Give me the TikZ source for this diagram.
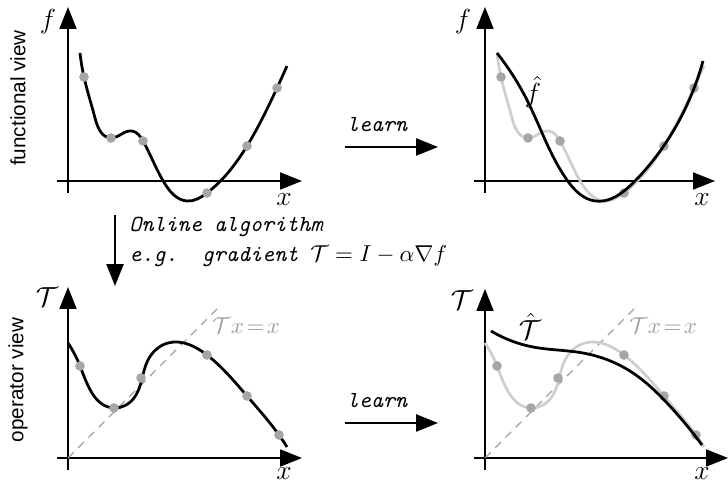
\documentclass[tikz,border=0pt]{standalone}
\usepackage{fontspec}
\newfontfamily\labelsans{Liberation Sans}
\newcommand{\ttitfont}{\fontencoding{OT1}\fontfamily{cmtt}\fontshape{it}\selectfont}
\usetikzlibrary{arrows.meta,hobby}
\definecolor{dotgray}{HTML}{A6A6A6}
\definecolor{lightcurve}{HTML}{CFCFCF}
\definecolor{idgray}{HTML}{A0A0A0}
\begin{document}
\begin{tikzpicture}[x=0.435pt,y=-0.435pt,
  axis/.style={line width=0.7pt,-{Triangle[length=9.5pt,width=7.4pt]}},
  bigarrow/.style={line width=0.9pt,-{Triangle[length=9.5pt,width=7.4pt]}},
  maincurve/.style={line width=1.2pt,black,use Hobby shortcut},
  ghost/.style={line width=1.2pt,lightcurve,use Hobby shortcut},
  dot/.style={circle,fill=dotgray,inner sep=0pt,minimum size=4.2pt},
  identity/.style={idgray,dash pattern=on 3.5pt off 2.8pt,line width=0.5pt},
  axlabel/.style={font=\large},
  ttit/.style={font=\ttitfont},
  sidelabel/.style={font=\labelsans\fontsize{9}{11}\selectfont,rotate=90}]
\useasboundingbox (0,0) rectangle (728,484);

% ---------- panel 1: functional view ----------
\draw[axis] (68,193) -- (68,7);
\draw[axis] (57,181) -- (302,181);
\node[axlabel] (f1) at (48,22) {$f$};
\node[axlabel] (x1) at (284,200) {$x$};
\draw[maincurve] (80,53) .. (84,77) .. (95,118) .. (111,138) .. (132,131) .. (143,141) .. (165,184) .. (187,201) .. (207,193) .. (247,146) .. (277,88) .. (287,66);
\foreach \p in {(84,77),(111,138),(143,141),(207,193),(247,146),(277,88)}
  \node[dot] at \p {};
\node[sidelabel] (fv) at (18,98) {functional view};

% ---------- panel 2: learned f ----------
\begin{scope}[shift={(417,0)}]
\draw[axis] (68,193) -- (68,7);
\draw[axis] (57,181) -- (298,181);
\node[axlabel] (f2) at (46,22) {$f$};
\node[axlabel] (x2) at (285,200) {$x$};
\draw[ghost] (80,53) .. (84,77) .. (95,118) .. (111,138) .. (132,131) .. (143,141) .. (165,184) .. (187,201) .. (207,193) .. (247,146) .. (277,88) .. (287,66);
\foreach \p in {(84,77),(111,138),(143,141),(207,193),(247,146),(277,88)}
  \node[dot] at \p {};
\end{scope}
\draw[maincurve] (497,53) .. (527,100) .. (567,180) .. (595,201) .. (633,183) .. (663,147) .. (703,61);
\node[axlabel] (fhat) at (533,92) {$\hat f$};

% ---------- panel 3: operator view ----------
\draw[axis] (68,470) -- (68,287);
\draw[axis] (57,458) -- (302,458);
\node[axlabel] (T1) at (47,297) {$\mathcal{T}$};
\node[axlabel] (x3) at (284,474) {$x$};
\draw[identity] (68,458) -- (218,308);
\node[idgray,anchor=west,inner sep=0pt] (id1) at (212,326) {$\mathcal{T}x\mkern2mu{=}\mkern2mu x$};
\draw[maincurve] (68,343) .. (80,366) .. (114,408) .. (134,398) .. (148,360) .. (168,343) .. (207,355) .. (247,396) .. (279,435) .. (287,447);
\foreach \p in {(80,366),(114,408),(141,378),(207,355),(247,396),(279,435)}
  \node[dot] at \p {};
\node[sidelabel] (ov) at (18,380) {operator view};

% ---------- panel 4: learned operator ----------
\begin{scope}[shift={(417,0)}]
\draw[axis] (68,470) -- (68,289);
\draw[axis] (57,458) -- (311,458);
\node[axlabel] (T2) at (45,300) {$\mathcal{T}$};
\node[axlabel] (x4) at (285,474) {$x$};
\draw[identity] (68,458) -- (218,308);
\node[idgray,anchor=west,inner sep=0pt] (id2) at (212,326) {$\mathcal{T}x\mkern2mu{=}\mkern2mu x$};
\draw[ghost] (68,343) .. (80,366) .. (114,408) .. (134,398) .. (148,360) .. (168,343) .. (207,355) .. (247,396) .. (279,435) .. (287,447);
\foreach \p in {(80,366),(114,408),(141,378),(207,355),(247,396),(279,435)}
  \node[dot] at \p {};
\end{scope}
\draw[maincurve] (491,331) .. (533,347) .. (583,353) .. (633,373) .. (667,403) .. (702,445);
\node[axlabel] (That) at (530,326) {$\hat{\mathcal{T}}$};

% ---------- connecting arrows ----------
\coordinate (l1s) at (345,147);
\coordinate (l1e) at (438,147);
\draw[bigarrow] (l1s) -- (l1e);
\node[ttit] (learn1) at (377,124) {learn};
\coordinate (l2s) at (345,423);
\coordinate (l2e) at (438,423);
\draw[bigarrow] (l2s) -- (l2e);
\node[ttit] (learn2) at (377,400) {learn};
\coordinate (vs) at (115,215);
\coordinate (ve) at (115,286);
\draw[bigarrow] (vs) -- (ve);
\node[ttit,anchor=base west,inner sep=0pt] (alg1) at (129,232) {Online algorithm};
\node[ttit,anchor=base west,inner sep=0pt] (alg2) at (129,262) {e.g. gradient $\mathcal{T}=I-\alpha\nabla f$};
\end{tikzpicture}
\end{document}
